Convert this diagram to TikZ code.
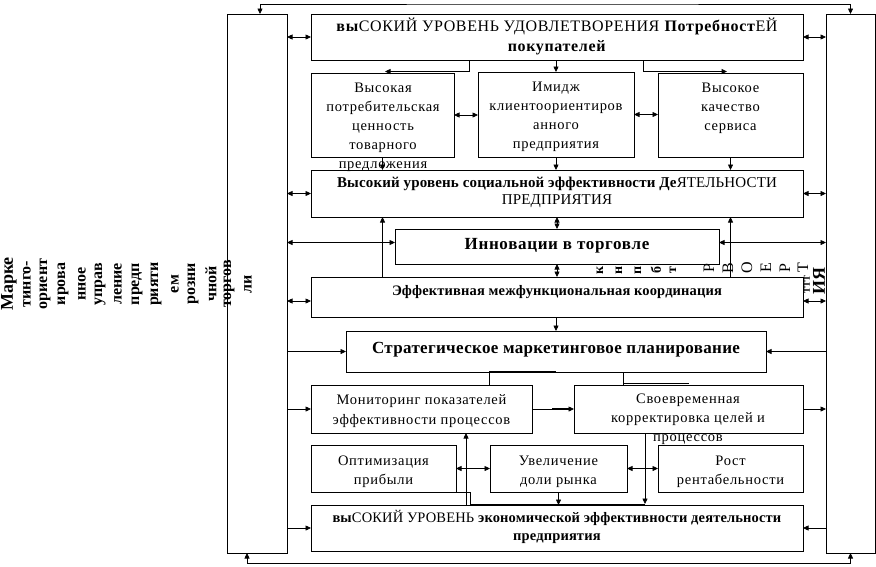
\documentclass[tikz,border=0pt]{standalone}
\usepackage{fontspec}
\setmainfont{Liberation Serif}
\newfontfamily\rg[LetterSpace=5]{Liberation Serif}
\newfontfamily\bdA[LetterSpace=4]{Liberation Serif}
\newfontfamily\bdB[LetterSpace=1]{Liberation Serif}
\newfontfamily\bdC[LetterSpace=2]{Liberation Serif}
\usetikzlibrary{arrows.meta,calc}
\tikzset{
  box/.style={draw, line width=0.9pt, inner sep=0pt, outer sep=0pt},
  >={Triangle[length=5.5pt,width=5pt]},
  ln/.style={line width=0.7pt},
  arr/.style={ln,->},
  dbl/.style={ln,<->},
  bold line/.style={line width=1.4pt},
  txt/.style={align=center, inner sep=0pt, font=\rg\fontsize{14.5}{19}\selectfont},
  btxt/.style={align=center, inner sep=0pt, font=\bdB\fontsize{14.5}{17}\selectfont},
  col/.style={rotate=90, inner sep=0pt, font=\bfseries\fontsize{16}{16}\selectfont},
  rl/.style={rotate=90, inner sep=0pt, anchor=center},
}
\newcommand\bx[5]{\node[box, minimum width={#4-#2}, minimum height={#5-#3}] (#1) at ({(#2+#4)/2},{(#3+#5)/2}) {};}
\begin{document}
\begin{tikzpicture}[x=1pt,y=-1pt]
\useasboundingbox (0,0) rectangle (876,566);
% boxes
\bx{L}{227}{14}{287}{553}
\bx{Rt}{826}{14}{875}{553}
\bx{T}{311}{14}{803}{60}
\bx{A}{311}{73}{454}{157}
\bx{B}{478}{72}{634}{157}
\bx{C}{658}{73}{803}{157}
\bx{S}{311}{170}{803}{217}
\bx{I}{395}{229}{719}{264}
\bx{E}{311}{277}{803}{317}
\bx{P}{346}{331}{766}{372}
\bx{M}{311}{385}{532}{433}
\bx{K}{574}{385}{803}{433}
\bx{O}{311}{445}{456}{492}
\bx{U}{490}{445}{627}{492}
\bx{R}{658}{445}{803}{492}
\bx{X}{311}{505}{803}{551}
% texts
\node[btxt, font=\bdA\fontsize{16}{20}\selectfont] (tT) at (557,36.5) {\textbf{вы}СОКИЙ УРОВЕНЬ УДОВЛЕТВОРЕНИЯ \textbf{Потребност}ЕЙ\\\textbf{покупателей}};
\node[txt] (tA) at (383,127.5) {Высокая\\потребительская\\ценность\\товарного\\предложения};
\node[txt] (tB) at (556,117) {Имидж\\клиентоориентиров\\анного\\предприятия};
\node[txt] (tC) at (730.5,108) {Высокое\\качество\\сервиса};
\node[btxt, font=\bdB\fontsize{15}{17}\selectfont] (tS) at (557,192.5) {\textbf{Высокий уровень социальной эффективности Де}ЯТЕЛЬНОСТИ\\ПРЕДПРИЯТИЯ};
\node[btxt, font=\bdA\bfseries\fontsize{17}{18}\selectfont] (tI) at (557,245.5) {Инновации в торговле};
\node[btxt, font=\bdB\bfseries\fontsize{14.5}{17}\selectfont] (tE) at (557,292) {Эффективная межфункциональная координация};
\node[btxt, font=\bdC\bfseries\fontsize{17}{17}\selectfont] (tP) at (556,350) {Стратегическое маркетинговое планирование};
\node[txt, font=\rg\fontsize{14.5}{20}\selectfont] (tM) at (421.5,411) {Мониторинг показателей\\эффективности процессов};
\node[txt] (tK) at (688,419.5) {Своевременная\\корректировка целей и\\процессов};
\node[txt] (tO) at (383.5,471.5) {Оптимизация\\прибыли};
\node[txt] (tU) at (558.5,471.5) {Увеличение\\доли рынка};
\node[txt] (tR) at (730.5,471.5) {Рост\\рентабельности};
\node[btxt, font=\bdB\fontsize{14.5}{18}\selectfont] (tX) at (557,526.5) {\textbf{вы}СОКИЙ УРОВЕНЬ \textbf{экономической эффективности деятельности}\\\textbf{предприятия}};
% left column text
\node[col, font=\bfseries\fontsize{18}{18}\selectfont] (c1) at (9,284) {Марке};
\foreach \xx/\tt [count=\i from 2] in {27/тинго-,45/ориент,63/ирова,82/нное,100/управ,118/ление,137/предп,156/рияти,175/ем,193/розни,211/чной,229/торгов,248/ли}
  \node[col] (c\i) at (\xx,284) {\tt};
% right garbled letters
\foreach \xx/\tt [count=\i] in {600/к,619/н,638/п,656/б,673/т}
  \node[rl, font=\bfseries\fontsize{14}{14}\selectfont] (r\i) at (\xx,270) {\tt};
\foreach \xx/\tt [count=\i from 6] in {709/Р,728/В,747/О,766/Е,785/Р,803/Т}
  \node[rl, font=\fontsize{16}{16}\selectfont] (r\i) at (\xx,268) {\tt};
\node[rl, font=\bfseries\fontsize{9}{9}\selectfont] (r12) at (807,284) {ТТТ};
\node[rl, font=\bfseries\fontsize{18}{18}\selectfont] (r13) at (819,281) {ИЯ};
% coordinates
\coordinate (topc) at (550,4);
\coordinate (botc) at (550,563);
\coordinate (xa) at (469,0);
\coordinate (xa2) at (385,0);
\coordinate (xc) at (643,0);
\coordinate (xc2) at (727,0);
\coordinate (pm) at (489,0);
\coordinate (pk) at (623,0);
\coordinate (pk2) at (689,0);
\coordinate (ox) at (470,0);
\coordinate (mx) at (466,0);
\coordinate (kx) at (645,0);
\coordinate (yA) at (0,71.5);
\coordinate (Iw) at ([yshift=4pt]I.west);
\coordinate (Ie) at ([yshift=4pt]I.east);
\coordinate (Ew) at ([yshift=-4pt]E.west);
\coordinate (Ee) at ([yshift=-4pt]E.east);
\coordinate (Kn) at ([yshift=1.5pt]K.north);
\coordinate (Xn) at ([yshift=1pt]X.north);
\coordinate (Ln) at ([xshift=3pt]L.north);
\coordinate (Ls) at ([xshift=-10pt]L.south);
\coordinate (Kw1) at ([xshift=-22pt]K.west);
\coordinate (Kw2) at ([xshift=-5pt]K.west);
% loops
\draw[dbl] (Ln) |- (topc) -| (Rt.north);
\draw[dbl] (Ls) |- (botc) -| (Rt.south);
% top box
\draw[dbl] (L.east |- T.west) -- (T.west);
\draw[dbl] (T.east) -- (T.east -| Rt.west);
\draw[arr] (T.south -| xa) -- (yA -| xa) -- (yA -| xa2);
\draw[ln] (T.south -| xc) -- (yA -| xc);
\draw[arr, bold line] (yA -| xc) -- (yA -| xc2);
\draw[arr] (B.north |- T.south) -- (B.north);
\draw[dbl] (A.east) -- (A.east -| B.west);
\draw[dbl] (B.east) -- (B.east -| C.west);
\draw[arr] (A.south) -- (A.south |- S.north);
\draw[arr] (B.south) -- (B.south |- S.north);
\draw[arr] (C.south) -- (C.south |- S.north);
% social
\draw[dbl] (L.east |- S.west) -- (S.west);
\draw[dbl] (S.east) -- (S.east -| Rt.west);
\draw[dbl] (I.north) -- (I.north |- S.south);
\draw[dbl] (I.south) -- (I.south |- E.north);
\draw[dbl] (L.east |- Iw) -- (Iw);
\draw[dbl] (Ie) -- (Rt.west |- Ie);
\draw[arr] (A.south |- E.north) -- (A.south |- S.south);
\draw[arr] (C.south |- E.north) -- (C.south |- S.south);
\draw[dbl] (L.east |- Ew) -- (Ew);
\draw[dbl] (Ee) -- (Rt.west |- Ee);
\draw[arr] (P.north |- E.south) -- (P.north);
% planning
\draw[arr] (L.east |- P.west) -- (P.west);
\draw[arr] (Rt.west |- P.east) -- (P.east);
\draw[bold line] (P.south) -- (P.south -| pm);
\draw[ln] (P.south -| pm) -- (M.north -| pm);
\draw[ln] (P.south -| pk) -- (K.north -| pk);
\draw[bold line] (Kn -| pk) -- (Kn -| pk2);
% monitoring
\draw[arr] (M.east) -- (M.east -| K.west);
\draw[bold line] (Kw1) -- (Kw2);
\draw[arr] (L.east |- M.west) -- (M.west);
\draw[arr] (K.east) -- (K.east -| Rt.west);
% bottom row
\draw[dbl] (O.east) -- (O.east -| U.west);
\draw[dbl] (U.east) -- (U.east -| R.west);
\draw[arr] (X.north -| mx) -- (M.south -| mx);
\draw[ln] (O.south east) -| (X.north -| ox);
\draw[bold line] (X.north -| ox) -- (X.north -| kx);
\draw[arr] (K.south -| kx) -- (Xn -| kx);
\draw[arr] (U.south) -- (U.south |- X.north);
\draw[arr] (L.east |- X.west) -- (X.west);
\draw[arr] (Rt.west |- X.east) -- (X.east);
\end{tikzpicture}
\end{document}
